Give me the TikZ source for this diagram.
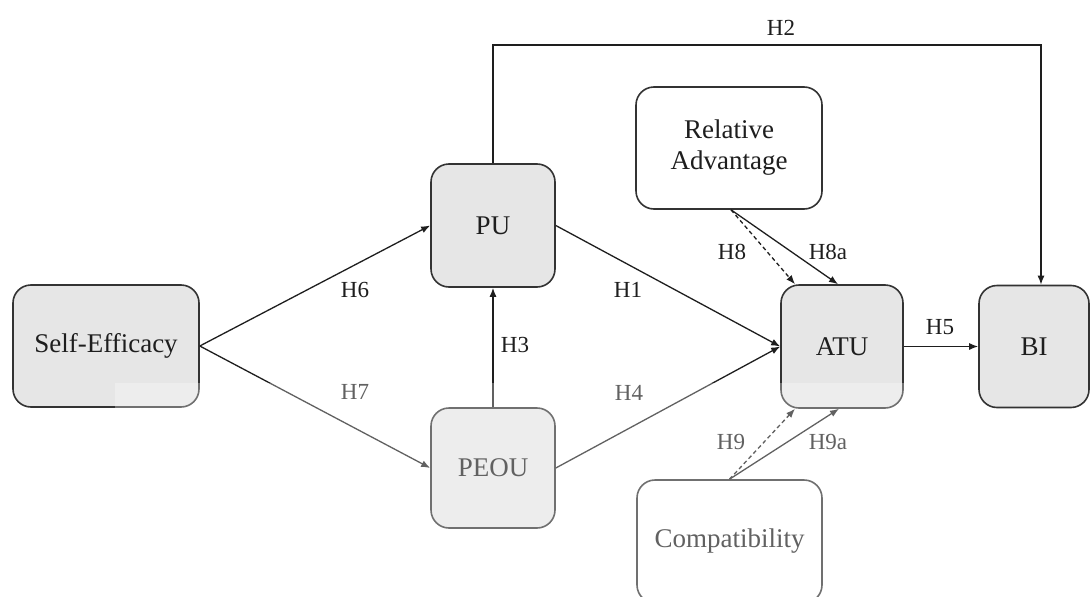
\documentclass[tikz,border=0pt]{standalone}
\usepackage{fontspec}
\setmainfont{Liberation Serif}
\usetikzlibrary{arrows.meta}
\definecolor{boxfill}{HTML}{E6E6E6}
\definecolor{boxline}{HTML}{333333}
\definecolor{lineclr}{HTML}{1E1E1E}
\begin{document}
\begin{tikzpicture}[x=1pt,y=-1pt,
  box/.style={draw=boxline, line width=1.6pt, rounded corners=18pt, fill=boxfill,
    font=\fontsize{27}{31}\selectfont, align=center, inner sep=0pt, text=lineclr},
  conn/.style={draw=lineclr, line width=1.3pt, -{Latex[length=9pt,width=7pt]}},
  dconn/.style={conn, dash pattern=on 4pt off 3pt},
  lbl/.style={font=\fontsize{23}{26}\selectfont, text=lineclr, inner sep=0pt}]
\useasboundingbox (0,0) rectangle (1090,597);
\clip (0,0) rectangle (1090,597);
\fill[white] (0,0) rectangle (1090,597);

% nodes
\node[box, minimum width=186pt, minimum height=122pt] (se) at (106,346) {Self-Efficacy};
\node[box, minimum width=124pt, minimum height=123pt] (pu) at (493,225.5) {PU};
\node[box, minimum width=124pt, minimum height=120pt] (peou) at (493,468) {PEOU};
\node[box, fill=white, minimum width=186pt, minimum height=122pt] (ra) at (729,148) {Relative\\Advantage};
\node[box, minimum width=122pt, minimum height=123pt] (atu) at (842,346.5) {ATU};
\node[box, minimum width=110pt, minimum height=122pt] (bi) at (1034,346.5) {BI};
\node[box, fill=white, minimum width=185pt, minimum height=123pt] (cp) at (729.5,541.5) {Compatibility};

% connectors
\draw[conn] (se.east) -- (pu.west);
\draw[conn] (se.east) -- (peou.west);
\draw[conn] (peou.north) -- (pu.south);
\draw[conn] (pu.east) -- (atu.west);
\draw[conn] (peou.east) -- (atu.west);
\draw[conn] (atu.east) -- (bi.west);
\coordinate (h2b) at (1041,45);
\draw[conn] (pu.north) |- (h2b) -- (h2b |- bi.north);
\draw[dconn] ([xshift=2pt]ra.south) -- ([xshift=-47pt]atu.north);
\draw[conn] ([xshift=2pt]ra.south) -- ([xshift=-4pt]atu.north);
\draw[dconn] (cp.north) -- ([xshift=-47pt]atu.south);
\draw[conn] (cp.north) -- ([xshift=-3pt]atu.south);

% labels
\node[lbl] (l2) at (781,28) {H2};
\node[lbl] (l6) at (355,290) {H6};
\node[lbl] (l7) at (355,392) {H7};
\node[lbl] (l3) at (515,345) {H3};
\node[lbl] (l1) at (628,290) {H1};
\node[lbl] (l4) at (629,393) {H4};
\node[lbl] (l5) at (940,327) {H5};
\node[lbl] (l8) at (732,252) {H8};
\node[lbl] (l8a) at (828,252) {H8a};
\node[lbl] (l9) at (731,442) {H9};
\node[lbl] (l9a) at (828,442) {H9a};

% faded lower band of the reference
\fill[white, opacity=0.3] (115,383) rectangle (960,597);
\end{tikzpicture}
\end{document}
